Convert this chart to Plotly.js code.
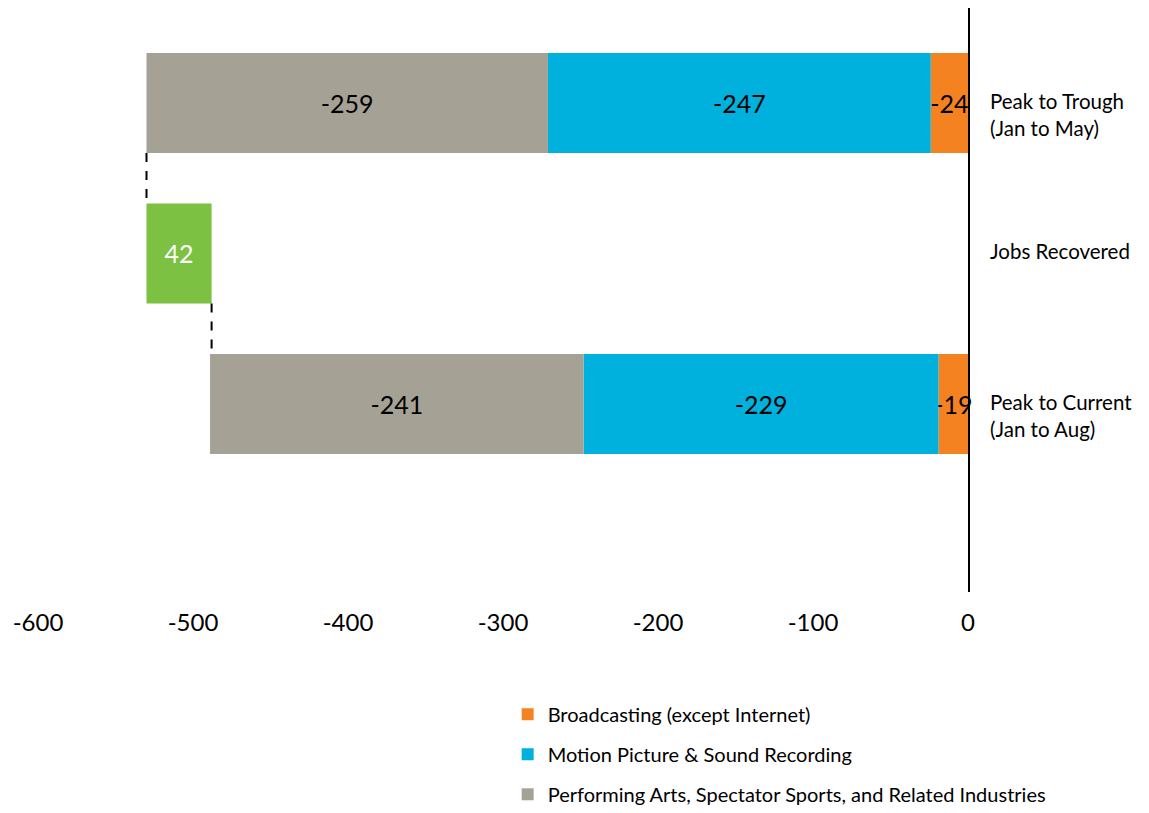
<!DOCTYPE html>
<html>
<head>
<meta charset="utf-8">
<script src="https://cdn.plot.ly/plotly-3.0.1.min.js"></script>
<style>html,body{margin:0;padding:0;background:#fff;}#chart{width:1149px;height:813px;}</style>
</head>
<body>
<div id="chart"></div>
<script>
const categories = ["Peak to Trough<br>(Jan to May)", "Jobs Recovered", "Peak to Current<br>(Jan to Aug)"];
const broadcasting = [-24, null, -19];
const motionPicture = [-247, null, -229];
const performingArts = [-259, null, -241];
const jobsRecovered = 42;
const xTicks = [-600, -500, -400, -300, -200, -100, 0];

const yPos = categories.map((c, i) => i);
const troughTotal = broadcasting[0] + motionPicture[0] + performingArts[0];
const barW = 0.665;
const FONT = "Lato, 'Open Sans', sans-serif";

function seriesTrace(name, vals, color, group) {
  return {
    type: 'bar', orientation: 'h', name: name,
    y: yPos, x: vals, width: barW,
    marker: {color: color},
    text: vals.map(v => v === null ? '' : String(v)),
    texttemplate: '%{text}',
    textposition: 'inside', insidetextanchor: 'middle', textangle: 0,
    constraintext: 'none',
    textfont: {family: FONT, size: 25, color: '#000'},
    legendgroup: group, hoverinfo: 'skip', cliponaxis: false
  };
}

const traces = [
  seriesTrace('Broadcasting (except Internet)', broadcasting, '#F58220', 'a'),
  seriesTrace('Motion Picture & Sound Recording', motionPicture, '#00B1DD', 'b'),
  seriesTrace('Performing Arts, Spectator Sports, and Related Industries', performingArts, '#A5A295', 'c'),
  {
    type: 'bar', orientation: 'h', name: 'Jobs Recovered',
    y: [1], x: [jobsRecovered], base: [troughTotal], width: barW,
    marker: {color: '#7CC142'},
    text: [String(jobsRecovered)], texttemplate: '%{text}',
    textposition: 'inside', insidetextanchor: 'middle', textangle: 0, constraintext: 'none',
    textfont: {family: FONT, size: 25, color: '#fff'},
    showlegend: false, hoverinfo: 'skip'
  }
];

const currentStart = troughTotal + jobsRecovered;
const shapes = [
  {type: 'line', xref: 'x', yref: 'y', x0: troughTotal, x1: troughTotal, y0: 0 + barW/2, y1: 1 - barW/2,
   line: {color: '#000', width: 2, dash: 'dash'}},
  {type: 'line', xref: 'x', yref: 'y', x0: currentStart, x1: currentStart, y0: 1 + barW/2, y1: 2 - barW/2,
   line: {color: '#000', width: 2, dash: 'dash'}}
];

const annotations = categories.map((c, i) => ({
  xref: 'paper', yref: 'y', x: 1, y: i, xanchor: 'left', yanchor: 'top',
  xshift: 20, yshift: 16, align: 'left', showarrow: false,
  text: c, font: {family: FONT, size: 20.5, color: '#000'}
}));

const layout = {
  width: 1149, height: 813,
  margin: {l: 38, r: 181, t: 8, b: 221, autoexpand: false},
  paper_bgcolor: '#fff', plot_bgcolor: '#fff',
  barmode: 'relative',
  showlegend: true,
  font: {family: FONT, color: '#000'},
  xaxis: {
    range: [-600, 0], tickvals: xTicks, ticktext: xTicks.map(String),
    showgrid: false, zeroline: false, showline: false,
    ticks: '', ticklabelstandoff: 14,
    tickfont: {family: FONT, size: 24, color: '#000'}
  },
  yaxis: {
    range: [3.249, -0.631], side: 'right',
    showgrid: false, zeroline: false,
    showline: true, linecolor: '#000', linewidth: 2,
    showticklabels: false, ticks: ''
  },
  legend: {
    orientation: 'v', x: 0.505, xanchor: 'left', y: -0.176, yanchor: 'top',
    traceorder: 'grouped', tracegroupgap: 11,
    font: {family: FONT, size: 20, color: '#000'},
    bgcolor: 'rgba(0,0,0,0)'
  },
  shapes: shapes,
  annotations: annotations
};

Plotly.newPlot('chart', traces, layout, {displayModeBar: false, staticPlot: true});
</script>
</body>
</html>
